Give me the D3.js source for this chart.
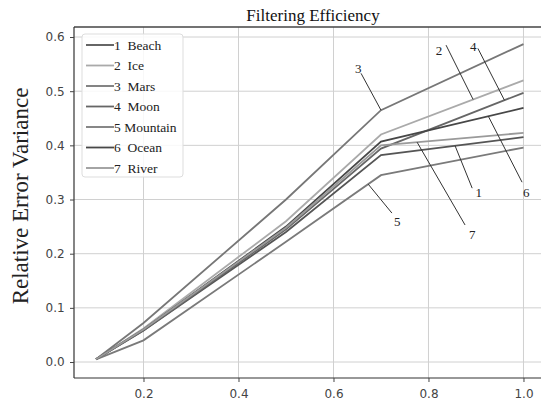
<!DOCTYPE html>
<html>
<head>
<meta charset="utf-8">
<script src="https://cdn.jsdelivr.net/npm/d3@7"></script>
<style>
  body { margin: 0; background: #fff; }
  svg { display: block; }
  .tick text { font-family: "DejaVu Sans", sans-serif; font-size: 12px; fill: #444; }
  .tick line { stroke: #444; }
</style>
</head>
<body>
<svg id="chart" width="541" height="403"></svg>
<script>
// filtering efficiency data
var xValues = [0.1, 0.2, 0.5, 0.7, 1.0];
var seriesNames = ["1  Beach", "2  Ice", "3  Mars", "4  Moon", "5 Mountain", "6  Ocean", "7  River"];
var beach = [0.005, 0.058, 0.240, 0.382, 0.415];
var ice = [0.005, 0.062, 0.260, 0.420, 0.520];
var mars = [0.005, 0.072, 0.300, 0.465, 0.587];
var moon = [0.005, 0.058, 0.245, 0.394, 0.497];
var mountain = [0.005, 0.040, 0.222, 0.345, 0.396];
var ocean = [0.005, 0.060, 0.250, 0.407, 0.469];
var river = [0.005, 0.060, 0.248, 0.400, 0.423];
var seriesValues = [beach, ice, mars, moon, mountain, ocean, river];
var seriesColors = ["#555", "#aaa", "#777", "#666", "#7a7a7a", "#474747", "#9a9a9a"];
var xTicks = [0.2, 0.4, 0.6, 0.8, 1.0];
var yTicks = [0.0, 0.1, 0.2, 0.3, 0.4, 0.5, 0.6];

// callouts: label, series index, x on line, tail of leader, text position
var calloutLabels = ["3", "2", "4", "6", "1", "7", "5"];
var calloutSeries = [2, 1, 3, 5, 0, 6, 4];
var calloutAnchorX = [0.7, 0.894, 0.96, 0.926, 0.856, 0.776, 0.673];
var calloutTail = [[0.658, 0.533], [0.837, 0.585], [0.904, 0.579], [0.997, 0.332], [0.892, 0.321], [0.877, 0.253], [0.723, 0.275]];
var calloutText = [[0.652, 0.542], [0.822, 0.575], [0.894, 0.583], [1.006, 0.313], [0.906, 0.313], [0.892, 0.236], [0.734, 0.26]];

var svg = d3.select("#chart");
var plotLeft = 74, plotRight = 544, plotTop = 27, plotBottom = 378;

var x = d3.scaleLinear().domain([0.0537, 1.0432]).range([plotLeft, plotRight]);
var y = d3.scaleLinear().domain([-0.0295, 0.6185]).range([plotBottom, plotTop]);

// grid
svg.append("g").selectAll("line").data(xTicks).enter().append("line")
    .attr("x1", function (d) { return x(d); }).attr("x2", function (d) { return x(d); })
    .attr("y1", plotTop).attr("y2", plotBottom)
    .style("stroke", "#d0d0d0").style("stroke-width", 1);
svg.append("g").selectAll("line").data(yTicks).enter().append("line")
    .attr("x1", plotLeft).attr("x2", plotRight)
    .attr("y1", function (d) { return y(d); }).attr("y2", function (d) { return y(d); })
    .style("stroke", "#d0d0d0").style("stroke-width", 1);

// lines
var line = d3.line()
    .x(function (d, i) { return x(xValues[i]); })
    .y(function (d) { return y(d); });

svg.append("g").selectAll("path").data(seriesValues).enter().append("path")
    .attr("d", line)
    .style("fill", "none")
    .style("stroke", function (d, i) { return seriesColors[i]; })
    .style("stroke-width", 1.8);

// frame
svg.append("line").attr("x1", plotLeft).attr("x2", plotRight).attr("y1", plotTop).attr("y2", plotTop)
    .style("stroke", "#444").style("stroke-width", 1.5);
svg.append("line").attr("x1", plotLeft).attr("x2", plotLeft).attr("y1", plotTop).attr("y2", plotBottom)
    .style("stroke", "#333").style("stroke-width", 1.2);
svg.append("line").attr("x1", plotLeft).attr("x2", plotRight).attr("y1", plotBottom).attr("y2", plotBottom)
    .style("stroke", "#333").style("stroke-width", 1.2);

// axes
var xAxis = svg.append("g").attr("transform", "translate(0," + plotBottom + ")")
    .call(d3.axisBottom(x).tickValues(xTicks).tickFormat(d3.format(".1f")).tickSize(4).tickSizeOuter(0));
xAxis.select(".domain").remove();
xAxis.selectAll("text").attr("dy", "1.05em");

var yAxis = svg.append("g").attr("transform", "translate(" + plotLeft + ",0)")
    .call(d3.axisLeft(y).tickValues(yTicks).tickFormat(d3.format(".1f")).tickSize(4).tickSizeOuter(0));
yAxis.select(".domain").remove();
yAxis.selectAll("text").attr("dx", "-0.2em");

// title + y label
svg.append("text").attr("x", 313).attr("y", 21).attr("text-anchor", "middle")
    .style("font-family", "Liberation Serif, serif").style("font-size", "17px").style("fill", "#111")
    .text("Filtering Efficiency");

svg.append("text").attr("transform", "translate(28,196) rotate(-90)").attr("text-anchor", "middle")
    .style("font-family", "Liberation Serif, serif").style("font-size", "23px").style("fill", "#222")
    .text("Relative Error Variance");

// callouts
function valueAt(s, xv) {
    var vals = seriesValues[s];
    for (var i = 0; i < xValues.length - 1; i++) {
        if (xv >= xValues[i] && xv <= xValues[i + 1]) {
            var t = (xv - xValues[i]) / (xValues[i + 1] - xValues[i]);
            return vals[i] + t * (vals[i + 1] - vals[i]);
        }
    }
    return vals[vals.length - 1];
}

var callouts = svg.append("g");
calloutLabels.forEach(function (lab, i) {
    var ax = calloutAnchorX[i];
    var ay = valueAt(calloutSeries[i], ax);
    callouts.append("line")
        .attr("x1", x(ax)).attr("y1", y(ay))
        .attr("x2", x(calloutTail[i][0])).attr("y2", y(calloutTail[i][1]))
        .style("stroke", "#333").style("stroke-width", 1);
    callouts.append("text")
        .attr("x", x(calloutText[i][0])).attr("y", y(calloutText[i][1]))
        .attr("text-anchor", "middle").attr("dy", "0.35em")
        .style("font-family", "Liberation Serif, serif").style("font-size", "13px").style("fill", "#222")
        .text(lab);
});

// legend
var legend = svg.append("g");
legend.append("rect").attr("x", 82).attr("y", 34).attr("width", 101).attr("height", 143)
    .attr("rx", 3)
    .style("fill", "#fff").style("fill-opacity", 0.85)
    .style("stroke", "#ddd").style("stroke-width", 1);
seriesNames.forEach(function (name, i) {
    var ly = 45 + i * 20.5;
    legend.append("line").attr("x1", 86).attr("x2", 114).attr("y1", ly).attr("y2", ly)
        .style("stroke", seriesColors[i]).style("stroke-width", 1.8);
    legend.append("text").attr("x", 114).attr("y", ly).attr("dy", "0.35em")
        .attr("xml:space", "preserve").style("white-space", "pre")
        .style("font-family", "Liberation Serif, serif").style("font-size", "13.5px").style("fill", "#222")
        .text(name);
});
</script>
</body>
</html>
